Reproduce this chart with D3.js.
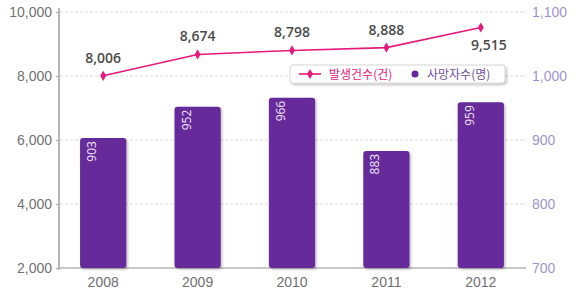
<!DOCTYPE html>
<html>
<head>
<meta charset="utf-8">
<script src="https://cdn.jsdelivr.net/npm/d3@7"></script>
<style>
  body { margin: 0; background: #fff; }
  svg { display: block; font-family: "Open Sans", "Noto Sans", sans-serif; }
</style>
</head>
<body>
<svg id="chart" width="576" height="299"></svg>
<script>
// data
const years = ['2008', '2009', '2010', '2011', '2012'];
const cases = [8006, 8674, 8798, 8888, 9515];      // 발생건수(건) - left axis
const deaths = [903, 952, 966, 883, 959];          // 사망자수(명) - right axis
const leftTicks = [2000, 4000, 6000, 8000, 10000];
const rightTicks = [700, 800, 900, 1000, 1100];
const legendLabels = ['발생건수(건)', '사망자수(명)'];

const lineColor = '#e8197c';
const barColor = '#66299a';

const svg = d3.select('#chart');

// scales
const x = d3.scaleBand()
    .domain(years)
    .range([56, 528])
    .paddingInner(0.51)
    .paddingOuter(0.255);

const yLeft = d3.scaleLinear().domain([2000, 10000]).range([268, 12]);
const yRight = d3.scaleLinear().domain([700, 1100]).range([268, 12]);

const defs = svg.append('defs');
const shadow = defs.append('filter').attr('id', 'shadow')
    .attr('x', '-20%').attr('y', '-20%').attr('width', '150%').attr('height', '150%');
shadow.append('feDropShadow')
    .attr('dx', 1.5).attr('dy', 1.5).attr('stdDeviation', 1.2)
    .attr('flood-color', '#000').attr('flood-opacity', 0.25);

// dashed grid lines
svg.append('g')
    .selectAll('line')
    .data(leftTicks.slice(1))
    .enter()
    .append('line')
    .attr('x1', 60)
    .attr('x2', 526)
    .attr('y1', d => yLeft(d))
    .attr('y2', d => yLeft(d))
    .attr('stroke', '#dadada')
    .attr('stroke-width', 1)
    .attr('stroke-dasharray', '3,2');

// baseline
svg.append('line')
    .attr('x1', 59).attr('x2', 526)
    .attr('y1', yLeft(2000)).attr('y2', yLeft(2000))
    .attr('stroke', '#b5b5b5').attr('stroke-width', 1.5);

// left axis
const leftAxis = svg.append('g')
    .attr('transform', 'translate(59,0)')
    .call(d3.axisLeft(yLeft).tickValues(leftTicks).tickSize(3).tickFormat(d3.format(',')));
leftAxis.select('.domain').attr('stroke', '#b5b5b5').attr('stroke-width', 2)
    .attr('d', 'M0,8V270');
leftAxis.selectAll('.tick line').attr('stroke', '#b5b5b5').attr('stroke-width', 1.5);
leftAxis.selectAll('.tick text')
    .attr('x', -7)
    .attr('fill', '#707070')
    .style('font-size', '14px');

// right axis (labels only)
const rightAxis = svg.append('g')
    .attr('transform', 'translate(530,0)')
    .call(d3.axisRight(yRight).tickValues(rightTicks).tickSize(0).tickFormat(d3.format(',')));
rightAxis.select('.domain').remove();
rightAxis.selectAll('.tick text')
    .attr('x', 2)
    .attr('fill', '#a092cf')
    .style('font-size', '14px');

// x axis labels
const xAxis = svg.append('g')
    .attr('transform', 'translate(0,270)')
    .call(d3.axisBottom(x).tickSize(0));
xAxis.select('.domain').remove();
xAxis.selectAll('.tick text')
    .attr('dy', '1.0em')
    .attr('fill', '#707070')
    .style('font-size', '14px');

// bars
svg.append('g')
    .selectAll('rect')
    .data(deaths)
    .enter()
    .append('rect')
    .attr('x', (d, i) => x(years[i]))
    .attr('y', d => yRight(d))
    .attr('width', x.bandwidth())
    .attr('height', d => yRight(700) - yRight(d))
    .attr('rx', 3)
    .attr('fill', barColor)
    .attr('filter', 'url(#shadow)');

// bar value labels, rotated
svg.append('g')
    .selectAll('text')
    .data(deaths)
    .enter()
    .append('text')
    .attr('transform', (d, i) => `translate(${x(years[i]) + x.bandwidth() / 2 - 7},${yRight(d) + 3}) rotate(-90)`)
    .attr('text-anchor', 'end')
    .attr('fill', '#efe6f8')
    .style('font-size', '12px')
    .text(d => d);

// line
const line = d3.line()
    .x((d, i) => x(years[i]) + x.bandwidth() / 2)
    .y(d => yLeft(d));

svg.append('path')
    .datum(cases)
    .attr('fill', 'none')
    .attr('stroke', lineColor)
    .attr('stroke-width', 1.6)
    .attr('d', line);

const diamond = d3.symbol().type(d3.symbolDiamond).size(30);
svg.append('g')
    .selectAll('path')
    .data(cases)
    .enter()
    .append('path')
    .attr('transform', (d, i) => `translate(${x(years[i]) + x.bandwidth() / 2},${yLeft(d)})`)
    .attr('d', diamond)
    .attr('fill', lineColor);

// line value labels
svg.append('g')
    .selectAll('text')
    .data(cases)
    .enter()
    .append('text')
    .attr('x', (d, i) => x(years[i]) + x.bandwidth() / 2 + (i === 4 ? 8 : 0))
    .attr('y', (d, i) => yLeft(d) + (i === 4 ? 22 : -13))
    .attr('text-anchor', 'middle')
    .attr('fill', '#4a4a4a')
    .style('font-size', '14px')
    .style('font-weight', 600)
    .text(d => d3.format(',')(d));

// legend
const legend = svg.append('g').attr('transform', 'translate(290,65)');
legend.append('rect')
    .attr('width', 215)
    .attr('height', 18)
    .attr('rx', 3)
    .attr('fill', '#fff')
    .attr('stroke', '#d6d6d6')
    .attr('filter', 'url(#shadow)');
legend.append('line')
    .attr('x1', 9).attr('x2', 31).attr('y1', 9).attr('y2', 9)
    .attr('stroke', lineColor).attr('stroke-width', 1.6);
legend.append('path')
    .attr('transform', 'translate(20,9)')
    .attr('d', diamond)
    .attr('fill', lineColor);
legend.append('text')
    .attr('x', 39).attr('y', 13.5)
    .attr('fill', lineColor)
    .style('font-family', '"Noto Sans CJK KR", sans-serif')
    .style('font-size', '12px')
    .text(legendLabels[0]);
legend.append('circle')
    .attr('cx', 125).attr('cy', 9).attr('r', 3.5)
    .attr('fill', barColor);
legend.append('text')
    .attr('x', 137).attr('y', 13.5)
    .attr('fill', '#6e4f9e')
    .style('font-family', '"Noto Sans CJK KR", sans-serif')
    .style('font-size', '12px')
    .text(legendLabels[1]);
</script>
</body>
</html>
